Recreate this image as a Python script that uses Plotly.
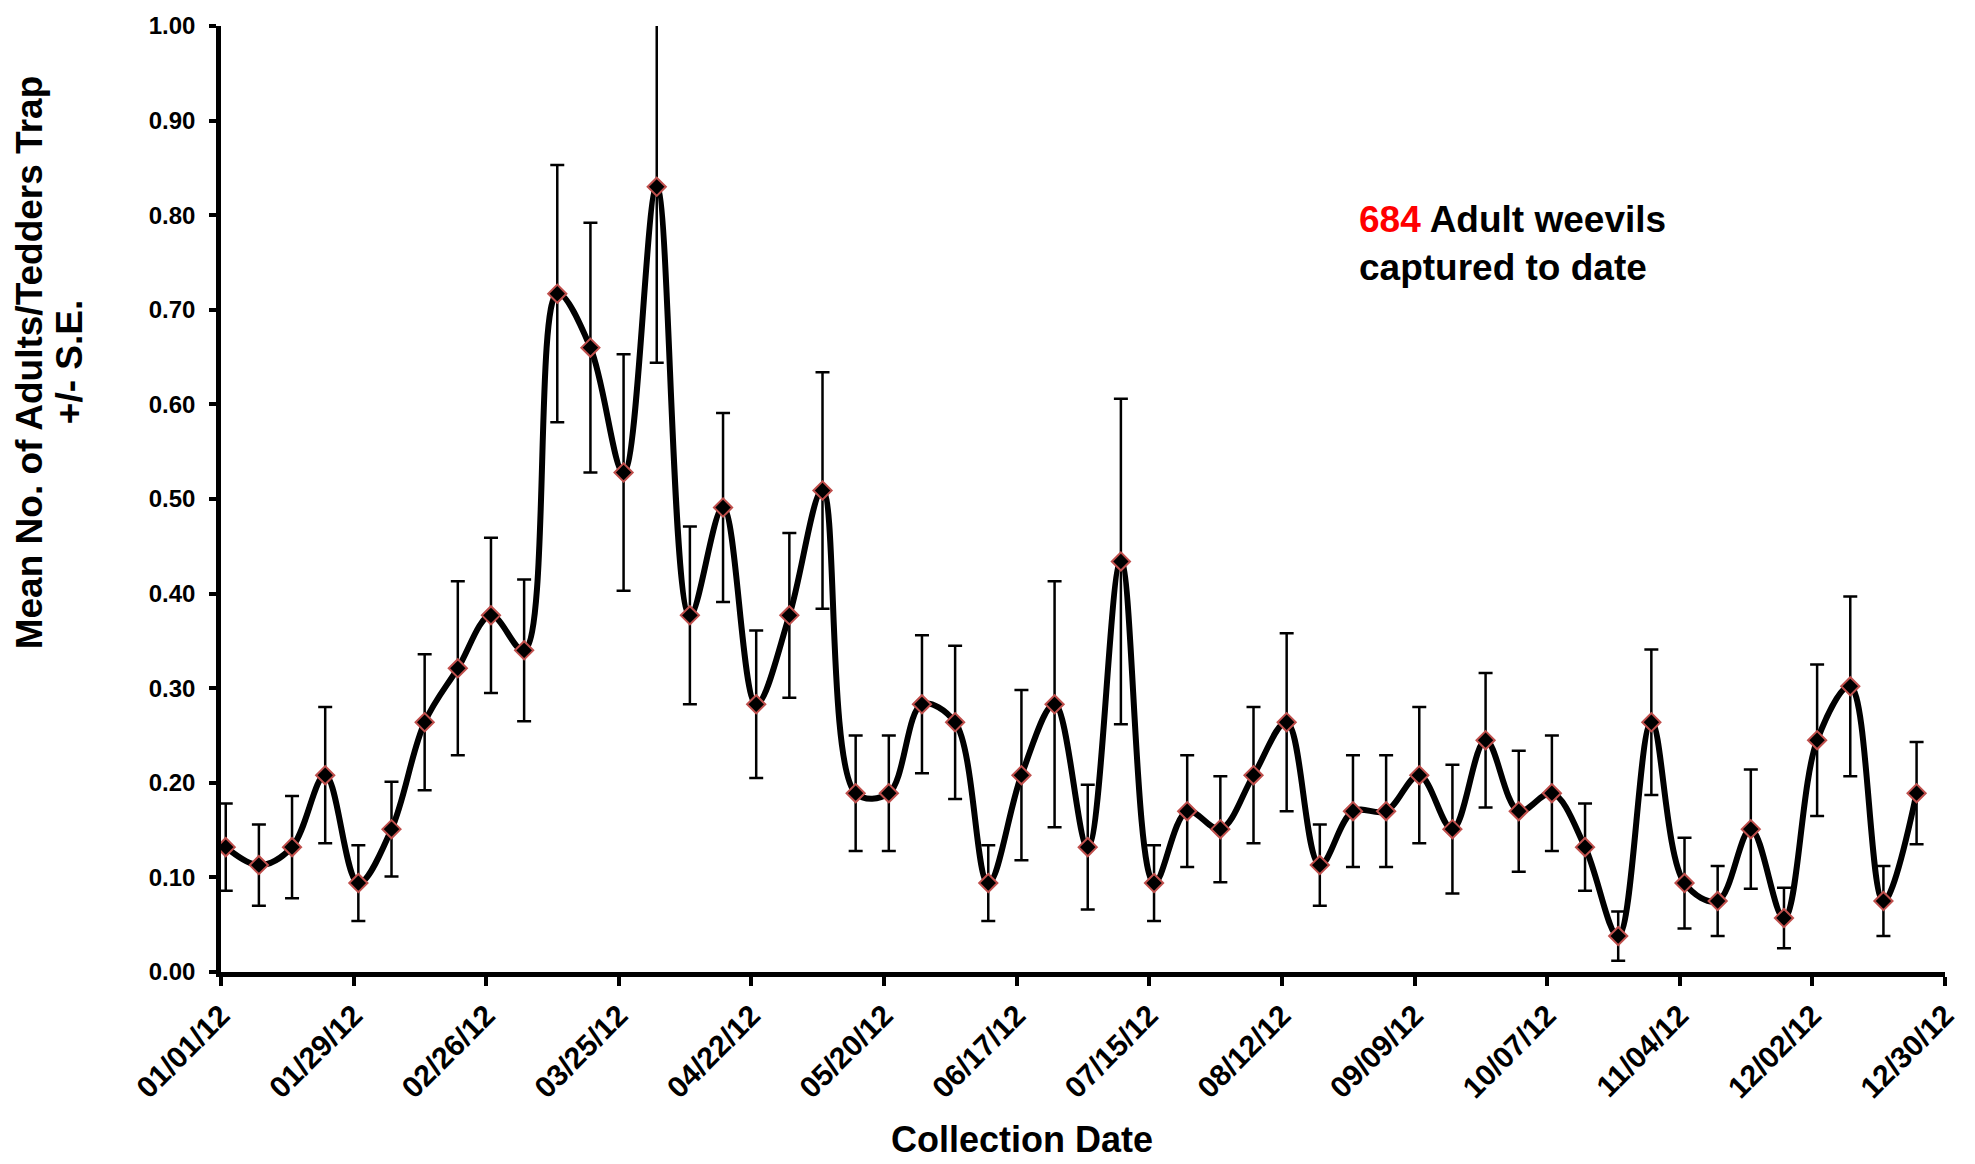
import pandas as pd
import plotly.graph_objects as go

# weekly trap collections (Mondays), 2012
dates = pd.date_range("2012-01-02", periods=52, freq="7D")

mean_adults = [
    0.132, 0.113, 0.132, 0.208, 0.094, 0.151, 0.264, 0.321, 0.377, 0.340,
    0.717, 0.660, 0.528, 0.830, 0.377, 0.491, 0.283, 0.377, 0.509, 0.189,
    0.189, 0.283, 0.264, 0.094, 0.208, 0.283, 0.132, 0.434, 0.094, 0.170,
    0.151, 0.208, 0.264, 0.113, 0.170, 0.170, 0.208, 0.151, 0.245, 0.170,
    0.189, 0.132, 0.038, 0.264, 0.094, 0.075, 0.151, 0.057, 0.245, 0.302,
    0.075, 0.189,
]

std_err = [
    0.046, 0.043, 0.054, 0.072, 0.040, 0.050, 0.072, 0.092, 0.082, 0.075,
    0.136, 0.132, 0.125, 0.186, 0.094, 0.100, 0.078, 0.087, 0.125, 0.061,
    0.061, 0.073, 0.081, 0.040, 0.090, 0.130, 0.066, 0.172, 0.040, 0.059,
    0.056, 0.072, 0.094, 0.043, 0.059, 0.059, 0.072, 0.068, 0.071, 0.064,
    0.061, 0.046, 0.026, 0.077, 0.048, 0.037, 0.063, 0.032, 0.080, 0.095,
    0.037, 0.054,
]

total_captured = 684

y_title = ["Mean No. of Adults/Tedders Trap", "+/- S.E."]

FONT = "Liberation Sans, Arial, sans-serif"

fig = go.Figure()

fig.add_trace(go.Scatter(
    x=dates, y=mean_adults,
    mode="lines+markers",
    line=dict(color="black", width=6, shape="spline", smoothing=1.0),
    marker=dict(symbol="diamond", size=14, color="black",
                line=dict(color="#C0504D", width=2)),
    error_y=dict(type="data", array=std_err, visible=True,
                 color="black", thickness=2.5, width=7),
    showlegend=False,
))

fig.update_layout(
    width=1975, height=1164,
    margin=dict(l=221, r=30, t=19, b=192),
    paper_bgcolor="white", plot_bgcolor="white",
    font=dict(family=FONT, color="black"),
    xaxis=dict(
        type="date",
        range=["2012-01-01", "2012-12-30"],
        tick0="2012-01-01", dtick=28 * 86400000,
        tickformat="%m/%d/%y", tickangle=-45,
        tickfont=dict(size=30, weight="bold"),
        showline=True, linewidth=4.5, linecolor="black",
        ticks="outside", ticklen=9, tickwidth=4, tickcolor="black",
        showgrid=False, zeroline=False,
    ),
    yaxis=dict(
        range=[0, 1], dtick=0.1, tickformat=".2f",
        tickfont=dict(size=24, weight="bold"),
        ticklabelstandoff=9,
        showline=True, linewidth=4.5, linecolor="black",
        ticks="outside", ticklen=7, tickwidth=4, tickcolor="black",
        showgrid=False, zeroline=False,
    ),
)

# y-axis title, two lines, sitting above the plot centre as in the original
for x_pos, line in zip([-0.1111, -0.0874], y_title):
    fig.add_annotation(xref="paper", yref="paper", x=x_pos, y=0.645,
                       xanchor="center", yanchor="middle", textangle=-90,
                       showarrow=False, text=f"<b>{line}</b>",
                       font=dict(size=37))

fig.add_annotation(xref="paper", yref="paper", x=0.4646, y=-0.1532,
                   xanchor="center", yanchor="top", showarrow=False,
                   text="<b>Collection Date</b>", font=dict(size=36))

fig.add_annotation(xref="paper", yref="paper", x=0.659, y=0.819,
                   xanchor="left", yanchor="top", align="left", showarrow=False,
                   text=f"<b><span style='color:red'>{total_captured}</span> Adult weevils"
                        "<br>captured to date</b>",
                   font=dict(size=37))

fig.write_html("out.html", config={"displayModeBar": False},
               post_script="document.body.style.margin='0';"
                           "document.body.style.overflow='hidden';")
